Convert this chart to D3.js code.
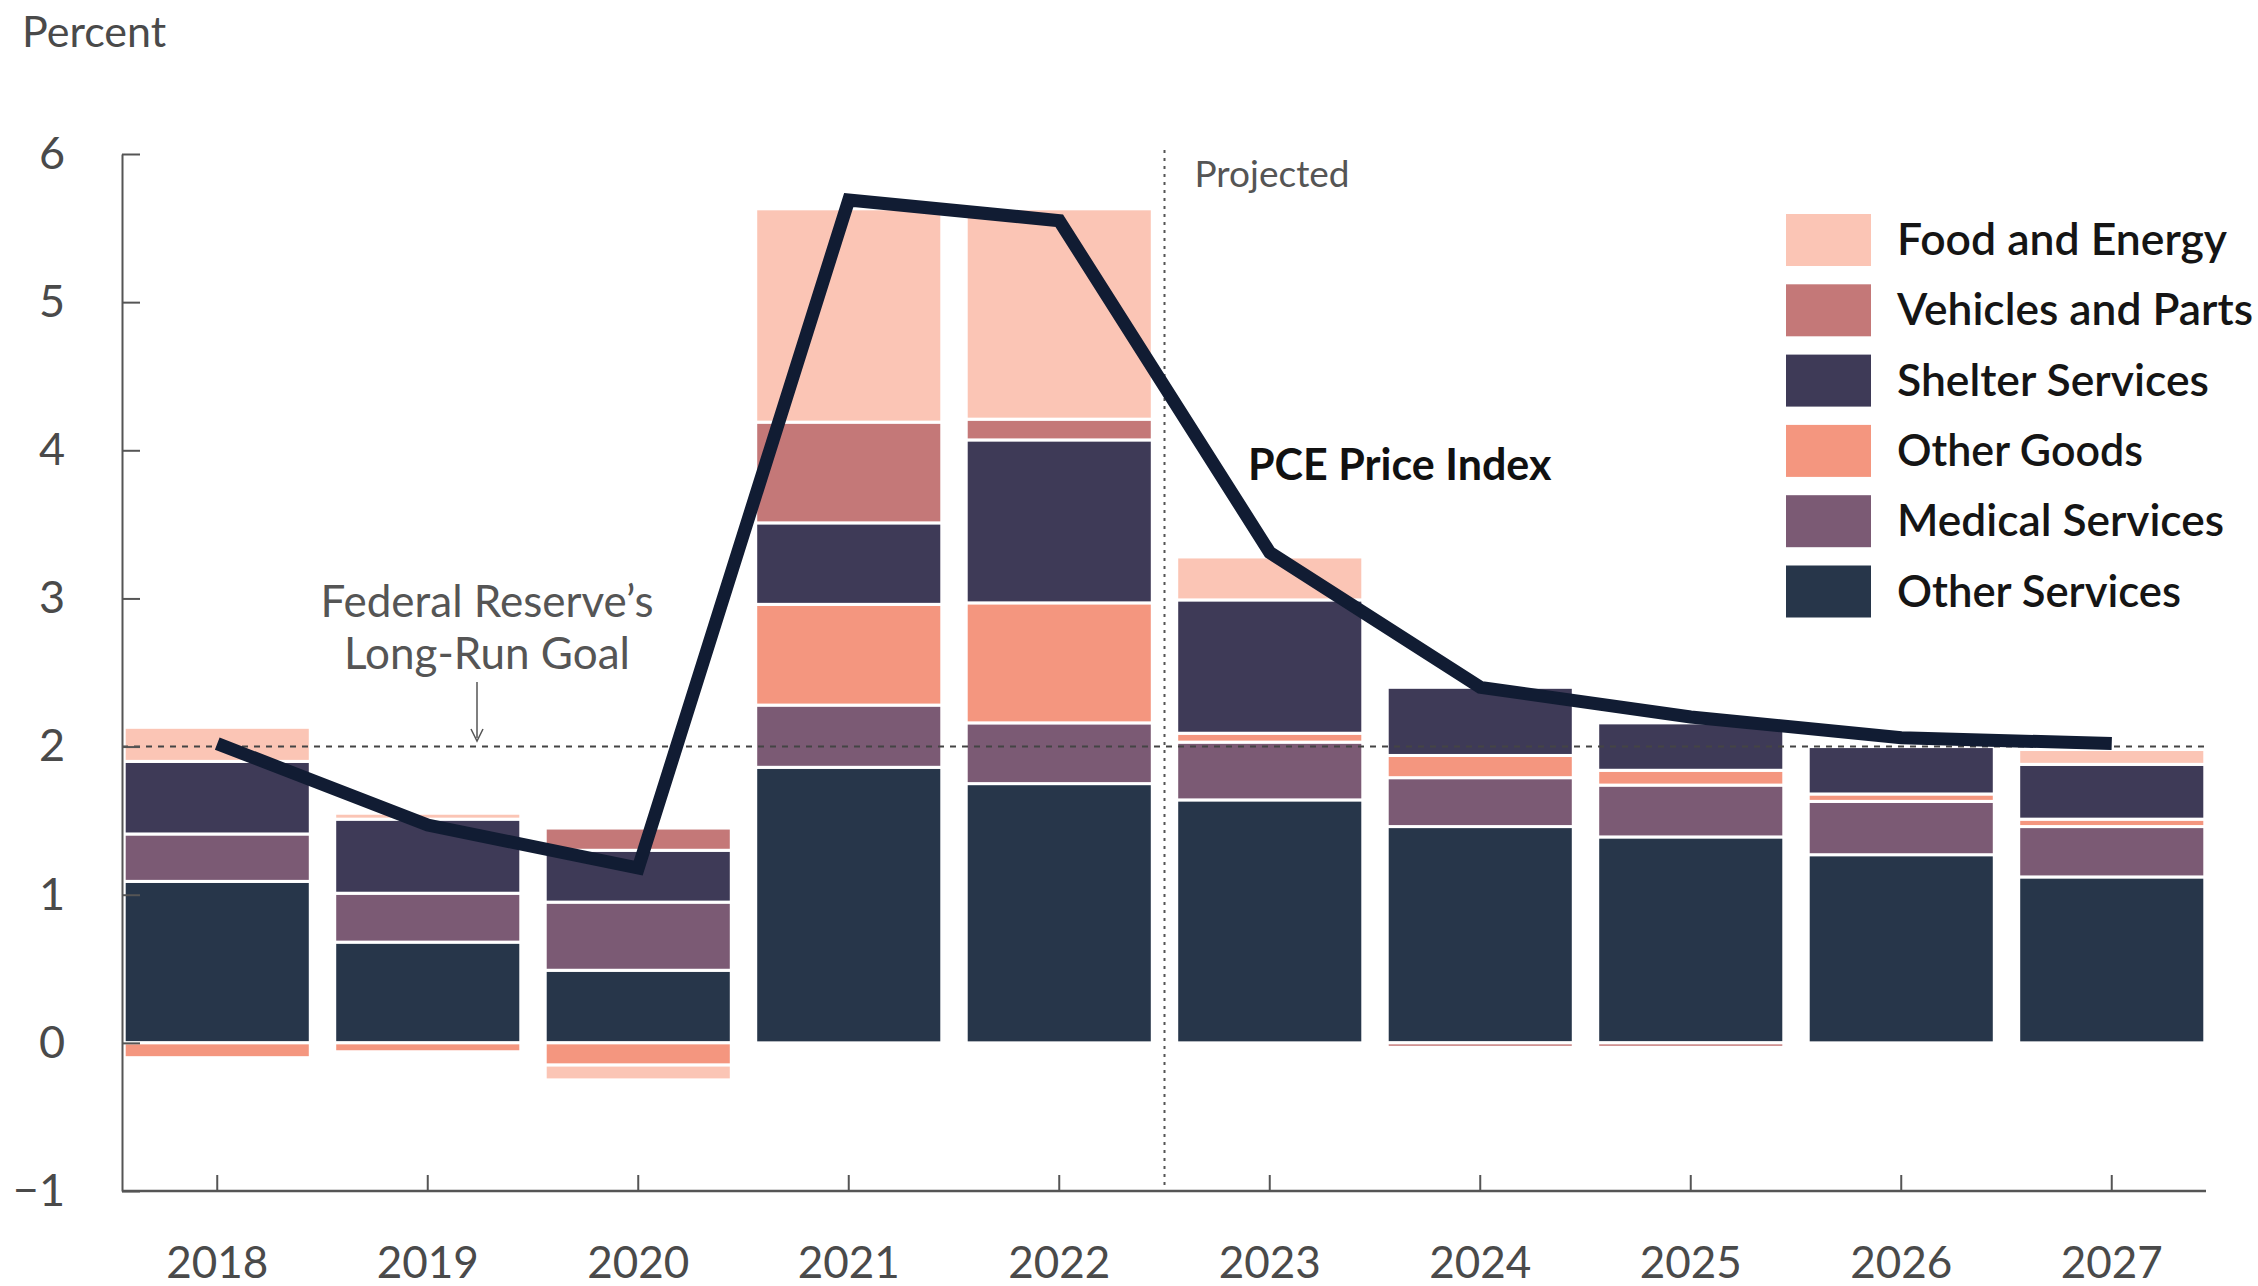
<!DOCTYPE html>
<html>
<head>
<meta charset="utf-8">
<script src="https://cdn.jsdelivr.net/npm/d3@7"></script>
<style>
  html, body { margin: 0; padding: 0; background: #ffffff; }
  svg { display: block; font-family: Lato, "Open Sans", sans-serif; }
</style>
</head>
<body>
<svg id="chart" width="2258" height="1286"></svg>
<script>
// ---- data ----
const years = ["2018","2019","2020","2021","2022","2023","2024","2025","2026","2027"];
const otherServices   = [1.09, 0.68, 0.49, 1.86, 1.75, 1.64, 1.46, 1.39, 1.27, 1.12];
const medicalServices = [0.32, 0.33, 0.46, 0.42, 0.41, 0.39, 0.33, 0.35, 0.36, 0.34];
const otherGoods      = [-0.10, -0.06, -0.15, 0.68, 0.81, 0.06, 0.15, 0.10, 0.05, 0.05];
const shelterServices = [0.49, 0.50, 0.35, 0.55, 1.10, 0.90, 0.46, 0.32, 0.32, 0.37];
const vehiclesParts   = [0.00, 0.00, 0.15, 0.68, 0.14, 0.00, -0.03, -0.03, 0.00, 0.00];
const foodEnergy      = [0.23, 0.04, -0.10, 1.44, 1.42, 0.29, 0.00, 0.00, 0.00, 0.10];
const pceIndex        = [2.02, 1.47, 1.18, 5.69, 5.55, 3.31, 2.40, 2.20, 2.06, 2.02];
const yTicks = [-1, 0, 1, 2, 3, 4, 5, 6];
const goalValue = 2;
const firstProjected = "2023";

const seriesKeys   = ["Other Services", "Medical Services", "Other Goods", "Shelter Services", "Vehicles and Parts", "Food and Energy"];
const seriesValues = [otherServices, medicalServices, otherGoods, shelterServices, vehiclesParts, foodEnergy];
const seriesColors = ["#27364a", "#7b5a74", "#f4967f", "#3e3a57", "#c47878", "#fbc5b5"];
const legendOrder  = ["Food and Energy", "Vehicles and Parts", "Shelter Services", "Other Goods", "Medical Services", "Other Services"];
const legendWidths = [330, 356, 312, 246, 327, 284];

// ---- build table ----
const table = years.map((yr, i) => {
  const row = { year: yr };
  seriesKeys.forEach((k, j) => row[k] = seriesValues[j][i]);
  return row;
});

const svg = d3.select("#chart");
const color = d3.scaleOrdinal().domain(seriesKeys).range(seriesColors);

const x = d3.scaleBand().domain(years).range([112, 2217]).paddingInner(0.116).paddingOuter(0.058);
const y = d3.scaleLinear().domain([-1, 6]).range([1191, 154]);
const axisLeftX = 122, axisRightX = 2206;

const stack = d3.stack().keys(seriesKeys).offset(d3.stackOffsetDiverging);
const stacked = stack(table);

// bars
svg.append("g").selectAll("g")
  .data(stacked).join("g")
  .attr("fill", d => color(d.key))
  .selectAll("rect")
  .data(d => d.filter(s => Math.abs(s[1] - s[0]) > 1e-9))
  .join("rect")
  .attr("x", d => x(d.data.year))
  .attr("width", x.bandwidth())
  .attr("y", d => y(Math.max(d[0], d[1])))
  .attr("height", d => Math.abs(y(d[0]) - y(d[1])))
  .attr("stroke", "#ffffff")
  .attr("stroke-width", 3);

// goal line (dashed)
svg.append("line")
  .attr("x1", axisLeftX).attr("x2", axisRightX)
  .attr("y1", y(goalValue)).attr("y2", y(goalValue))
  .attr("stroke", "#444").attr("stroke-width", 2)
  .attr("stroke-dasharray", "6,6");

// projected divider
const iProj = years.indexOf(firstProjected);
const divX = (x(years[iProj - 1]) + x.bandwidth() + x(years[iProj])) / 2;
svg.append("line")
  .attr("x1", divX).attr("x2", divX)
  .attr("y1", y(6) - 4).attr("y2", y(-1))
  .attr("stroke", "#555").attr("stroke-width", 2)
  .attr("stroke-dasharray", "3,5");
svg.append("text")
  .attr("x", divX + 30).attr("y", y(6) + 33)
  .attr("font-size", 37).attr("fill", "#555")
  .text("Projected");

// y axis
const yAxis = d3.axisLeft(y).tickValues(yTicks).tickFormat(d => d < 0 ? "\u2212" + Math.abs(d) : d)
  .tickSizeInner(-18).tickSizeOuter(0).tickPadding(57);
const gy = svg.append("g").attr("transform", `translate(${axisLeftX},0)`).call(yAxis);
gy.select(".domain").attr("stroke", "#555").attr("stroke-width", 2);
gy.selectAll(".tick line").attr("stroke", "#555").attr("stroke-width", 2);
gy.selectAll(".tick text").attr("font-size", 45).attr("fill", "#4a4a4a").attr("font-family", "Lato, sans-serif");

// x axis
const xAxis = d3.axisBottom(x).tickSizeInner(-16).tickSizeOuter(0).tickPadding(56);
const gx = svg.append("g").attr("transform", `translate(0,${y(-1)})`).call(xAxis);
gx.select(".domain").remove();
gx.selectAll(".tick line").attr("stroke", "#555").attr("stroke-width", 2);
gx.selectAll(".tick text").attr("font-size", 44).attr("fill", "#4a4a4a").attr("font-family", "Lato, sans-serif");
svg.append("line")
  .attr("x1", axisLeftX).attr("x2", axisRightX)
  .attr("y1", y(-1)).attr("y2", y(-1))
  .attr("stroke", "#555").attr("stroke-width", 2.5);

// PCE line
const line = d3.line()
  .x((d, i) => x(years[i]) + x.bandwidth() / 2)
  .y(d => y(d));
svg.append("path")
  .datum(pceIndex)
  .attr("d", line)
  .attr("fill", "none")
  .attr("stroke", "#111c33")
  .attr("stroke-width", 13)
  .attr("stroke-linejoin", "miter");

// labels
svg.append("text").attr("x", 22).attr("y", 47)
  .attr("font-size", 43).attr("fill", "#4a4a4a").text("Percent");

const goalX = 487;
svg.append("text").attr("x", goalX).attr("y", 617).attr("text-anchor", "middle")
  .attr("font-size", 44).attr("fill", "#555").text("Federal Reserve\u2019s");
svg.append("text").attr("x", goalX).attr("y", 669).attr("text-anchor", "middle")
  .attr("font-size", 44).attr("fill", "#555").text("Long-Run Goal");
svg.append("line").attr("x1", 477).attr("x2", 477).attr("y1", 682).attr("y2", 738)
  .attr("stroke", "#555").attr("stroke-width", 1.5);
svg.append("path").attr("d", "M471,729 L477,741 L483,729")
  .attr("fill", "none").attr("stroke", "#555").attr("stroke-width", 1.5);

svg.append("text").attr("x", 1248).attr("y", 480)
  .attr("font-size", 43).attr("font-weight", 700).attr("fill", "#111").text("PCE Price Index");

// legend
const lg = svg.append("g");
legendOrder.forEach((k, i) => {
  const cy = 240 + i * 70.3;
  lg.append("rect").attr("x", 1786).attr("y", cy - 26).attr("width", 85).attr("height", 52)
    .attr("fill", color(k));
  lg.append("text").attr("x", 1897).attr("y", cy + 15)
    .attr("font-size", 44).attr("font-weight", 600).attr("fill", "#151515")
    .attr("textLength", legendWidths[i]).attr("lengthAdjust", "spacingAndGlyphs")
    .text(k);
});
</script>
</body>
</html>
